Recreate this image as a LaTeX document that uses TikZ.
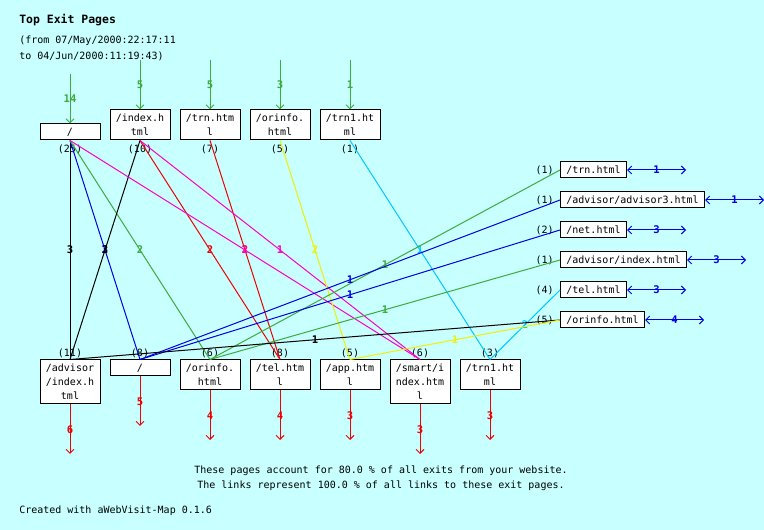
\documentclass[tikz,border=0pt]{standalone}
\usepackage{fontspec}
\setmonofont{DejaVu Sans Mono}
\usetikzlibrary{arrows.meta}
\definecolor{bgc}{RGB}{200,255,255}
\definecolor{cgreen}{RGB}{60,172,60}
\definecolor{cblue}{RGB}{0,0,230}
\definecolor{cred}{RGB}{240,0,0}
\definecolor{cmag}{RGB}{255,0,200}
\definecolor{cyel}{RGB}{240,240,0}
\definecolor{ccyan}{RGB}{0,200,255}
\newcommand\pxfont{\ttfamily\fontsize{7.5pt}{10.5pt}\selectfont}
\newcommand\pxbold{\ttfamily\bfseries\fontsize{7.9pt}{10.5pt}\selectfont}
\tikzset{
  pagebox/.style={draw=black, fill=white, line width=0.75pt, font=\pxfont, align=center, inner sep=0pt, minimum width=45pt},
  h1/.style={minimum height=12pt},
  h2/.style={minimum height=22.5pt},
  h3/.style={minimum height=33pt},
  rbox/.style={pagebox, anchor=west, minimum height=12pt},
  cnt/.style={font=\pxfont, inner sep=0pt},
  lab/.style={font=\pxbold, inner sep=0pt, pos=0.5},
  link/.style={line width=0.75pt},
  inarrow/.style={link, cgreen, -{Straight Barb[length=3pt,width=6pt]}},
  outarrow/.style={link, cred, -{Straight Barb[length=3pt,width=6pt]}},
  sidearrow/.style={link, cblue, {Straight Barb[length=3pt,width=6pt]}-{Straight Barb[length=3pt,width=6pt]}},
  plain/.style={font=\pxfont, inner sep=0pt}
}
\begin{document}
\begin{tikzpicture}[x=0.75pt,y=-0.75pt]
\fill[bgc] (0,0) rectangle (764,530);
\useasboundingbox (0,0) rectangle (764,530);

% header
\node[plain, anchor=west, font=\ttfamily\bfseries\fontsize{8.6pt}{10pt}\selectfont] (title) at (19,20) {Top Exit Pages};
\node[plain, anchor=west] (from) at (19,41) {(from 07/May/2000:22:17:11};
\node[plain, anchor=west] (to) at (19,56) {to 04/Jun/2000:11:19:43)};

% top boxes
\node[pagebox,h1] (t1) at (70,132) {/};
\node[pagebox,h2] (t2) at (140,125) {/index.h\\tml};
\node[pagebox,h2] (t3) at (210,125) {/trn.htm\\l};
\node[pagebox,h2] (t4) at (280,125) {/orinfo.\\html};
\node[pagebox,h2] (t5) at (350,125) {/trn1.ht\\ml};

% bottom boxes
\node[pagebox,h3] (b1) at (70,382) {/advisor\\/index.h\\tml};
\node[pagebox,h1] (b2) at (140,368) {/};
\node[pagebox,h2] (b3) at (210,375) {/orinfo.\\html};
\node[pagebox,h2] (b4) at (280,375) {/tel.htm\\l};
\node[pagebox,h2] (b5) at (350,375) {/app.htm\\l};
\node[pagebox,h3] (b6) at (420,382) {/smart/i\\ndex.htm\\l};
\node[pagebox,h2] (b7) at (490,375) {/trn1.ht\\ml};

% right boxes
\node[rbox, minimum width=49.5pt] (r1) at (560,170) {/trn.html};
\node[rbox, minimum width=108pt] (r2) at (560,200) {/advisor/advisor3.html};
\node[rbox, minimum width=49.5pt] (r3) at (560,230) {/net.html};
\node[rbox, minimum width=94.5pt] (r4) at (560,260) {/advisor/index.html};
\node[rbox, minimum width=49.5pt] (r5) at (560,290) {/tel.html};
\node[rbox, minimum width=63pt] (r6) at (560,320) {/orinfo.html};

% counts
\node[cnt] (ct1) at (70,149) {(25)};
\node[cnt] (ct2) at (140,149) {(10)};
\node[cnt] (ct3) at (210,149) {(7)};
\node[cnt] (ct4) at (280,149) {(5)};
\node[cnt] (ct5) at (350,149) {(1)};
\node[cnt] (cb1) at (70,353) {(11)};
\node[cnt] (cb2) at (140,353) {(8)};
\node[cnt] (cb3) at (210,353) {(6)};
\node[cnt] (cb4) at (280,353) {(8)};
\node[cnt] (cb5) at (350,353) {(5)};
\node[cnt] (cb6) at (420,353) {(6)};
\node[cnt] (cb7) at (490,353) {(3)};
\node[cnt, anchor=east] (cr1) at (554,170) {(1)};
\node[cnt, anchor=east] (cr2) at (554,200) {(1)};
\node[cnt, anchor=east] (cr3) at (554,230) {(2)};
\node[cnt, anchor=east] (cr4) at (554,260) {(1)};
\node[cnt, anchor=east] (cr5) at (554,290) {(4)};
\node[cnt, anchor=east] (cr6) at (554,320) {(5)};

% incoming arrows
\coordinate (i1) at (70,74);
\coordinate (i2) at (140,60);
\coordinate (i3) at (210,60);
\coordinate (i4) at (280,60);
\coordinate (i5) at (350,60);
\draw[inarrow] (i1) -- node[lab] {14} (t1.north);
\draw[inarrow] (i2) -- node[lab] {5} (t2.north);
\draw[inarrow] (i3) -- node[lab] {5} (t3.north);
\draw[inarrow] (i4) -- node[lab] {3} (t4.north);
\draw[inarrow] (i5) -- node[lab] {1} (t5.north);

% outgoing arrows (exits)
\coordinate (o1) at (70,454);
\coordinate (o2) at (140,426);
\coordinate (o3) at (210,440);
\coordinate (o4) at (280,440);
\coordinate (o5) at (350,440);
\coordinate (o6) at (420,454);
\coordinate (o7) at (490,440);
\draw[outarrow] (b1.south) -- node[lab] {6} (o1);
\draw[outarrow] (b2.south) -- node[lab] {5} (o2);
\draw[outarrow] (b3.south) -- node[lab] {4} (o3);
\draw[outarrow] (b4.south) -- node[lab] {4} (o4);
\draw[outarrow] (b5.south) -- node[lab] {3} (o5);
\draw[outarrow] (b6.south) -- node[lab] {3} (o6);
\draw[outarrow] (b7.south) -- node[lab] {3} (o7);

% side arrows
\coordinate (s1) at (686,170);
\coordinate (s2) at (764,200);
\coordinate (s3) at (686,230);
\coordinate (s4) at (746,260);
\coordinate (s5) at (686,290);
\coordinate (s6) at (704,320);
\draw[sidearrow] (r1.east) -- node[lab] {1} (s1);
\draw[sidearrow] (r2.east) -- node[lab] {1} (s2);
\draw[sidearrow] (r3.east) -- node[lab] {3} (s3);
\draw[sidearrow] (r4.east) -- node[lab] {3} (s4);
\draw[sidearrow] (r5.east) -- node[lab] {3} (s5);
\draw[sidearrow] (r6.east) -- node[lab] {4} (s6);

% links top -> bottom
\draw[link, black] (t1.south) -- node[lab] {3} (b1.north);
\draw[link, cblue] (t1.south) -- node[lab] {2} (b2.north);
\draw[link, cgreen] (t1.south) -- node[lab] {2} (b3.north);
\draw[link, black] (t2.south) -- node[lab] {3} (b1.north);
\draw[link, cred] (t2.south) -- node[lab] {2} (b4.north);
\draw[link, cred] (t3.south) -- node[lab] {2} (b4.north);
\draw[link, cmag] (t1.south) -- node[lab] {2} (b6.north);
\draw[link, cmag] (t2.south) -- node[lab] {1} (b6.north);
\draw[link, cyel] (t4.south) -- node[lab] {2} (b5.north);
\draw[link, ccyan] (t5.south) -- node[lab] {1} (b7.north);

% links bottom -> right
\draw[link, cgreen] (b3.north) -- node[lab] {1} (r1.west);
\draw[link, cblue] (b2.north) -- node[lab] {1} (r2.west);
\draw[link, cblue] (b2.north) -- node[lab] {1} (r3.west);
\draw[link, cgreen] (b3.north) -- node[lab] {1} (r4.west);
\draw[link, ccyan] (b7.north) -- node[lab] {2} (r5.west);
\draw[link, black] (b1.north) -- node[lab] {1} (r6.west);
\draw[link, cyel] (b5.north) -- node[lab] {1} (r6.west);

% footer
\node[plain] (sum1) at (381,471) {These pages account for 80.0 \% of all exits from your website.};
\node[plain] (sum2) at (381,486) {The links represent 100.0 \% of all links to these exit pages.};
\node[plain, anchor=west] (credit) at (19,511) {Created with aWebVisit-Map 0.1.6};
\end{tikzpicture}
\end{document}
